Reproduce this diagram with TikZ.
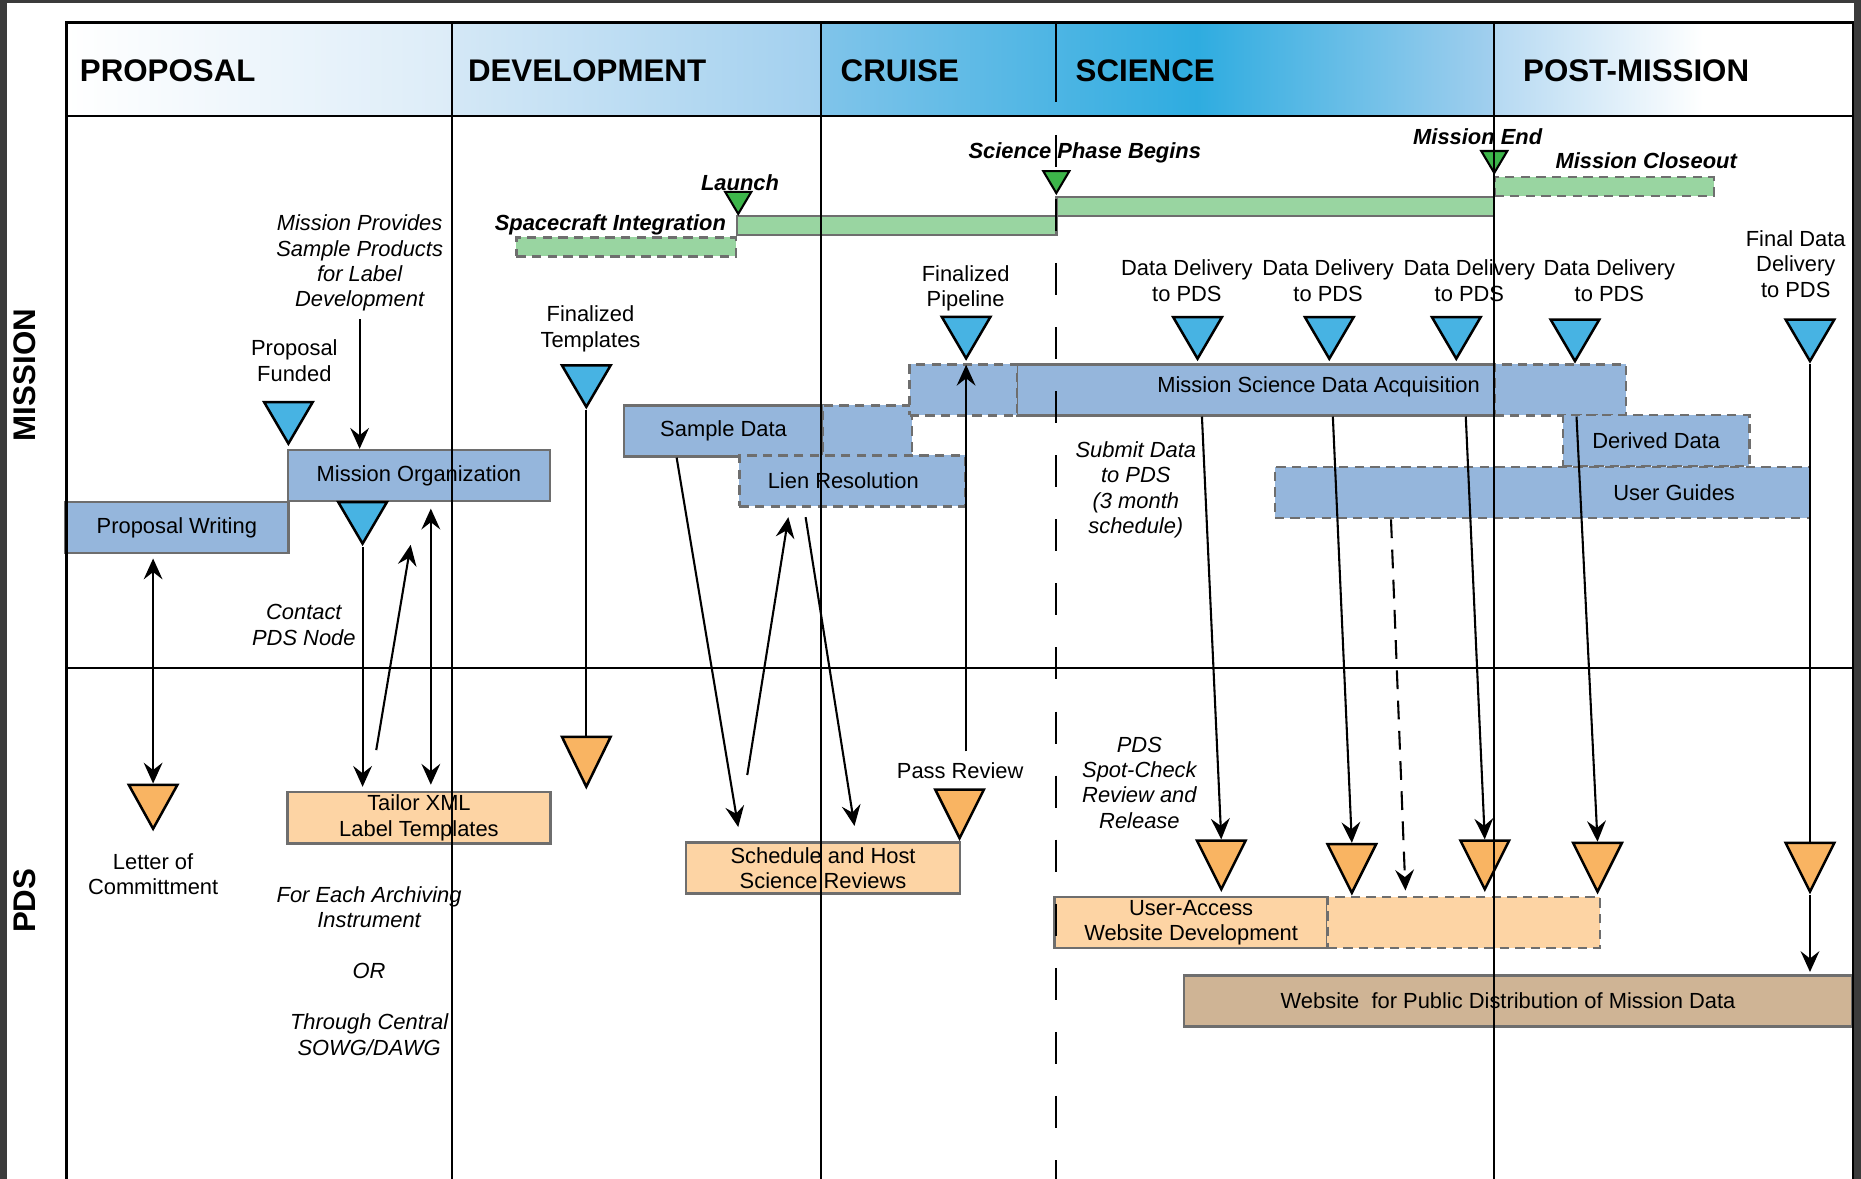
\documentclass[tikz,border=0pt]{standalone}
\usepackage{fontspec}
\setmainfont{Liberation Sans}
\usetikzlibrary{positioning, arrows.meta, shapes.geometric}

\definecolor{scrdark}{HTML}{3B3B3B}
\definecolor{taskblue}{HTML}{95B6DC}
\definecolor{msblue}{HTML}{47B3E3}
\definecolor{barfill}{HTML}{99D5A1}
\definecolor{msgreen}{HTML}{3DB54A}
\definecolor{msorange}{HTML}{F9B462}
\definecolor{pdsfill}{HTML}{FDD4A4}
\definecolor{webfill}{HTML}{CFB495}
\definecolor{edge}{HTML}{6E6E6E}
\definecolor{hdA}{HTML}{DCECF8}
\definecolor{hdB}{HTML}{D4E8F6}
\definecolor{hdC}{HTML}{A2D0EF}
\definecolor{hdD}{HTML}{80C4EA}
\definecolor{hdE}{HTML}{2EACE0}
\definecolor{hdF}{HTML}{A2CFEE}
\definecolor{hdG}{HTML}{B5D9F2}

\newcommand{\bodyfont}{\fontsize{10.5}{12.2}\selectfont}
\newcommand{\phasefont}{\fontsize{15}{18}\selectfont\bfseries}

\begin{document}
\begin{tikzpicture}[x=0.02cm, y=-0.02cm, font=\bodyfont,
    dashedge/.style={dash pattern=on 4.5pt off 3pt},
    task/.style={draw=edge, line width=1.2pt, fill=taskblue, minimum height=0.86cm, inner sep=0pt, align=center},
    plan/.style={task, dashedge},
    pdsbox/.style={task, fill=pdsfill},
    pdsplan/.style={pdsbox, dashedge},
    gbar/.style={draw=edge, line width=1.2pt, fill=barfill, minimum height=0.32cm, inner sep=0pt},
    gplan/.style={gbar, dashedge},
    tri/.style={isosceles triangle, isosceles triangle stretches=true, shape border rotate=270, draw=black, line width=1.2pt, inner sep=0pt, anchor=apex, minimum width=0.82cm, minimum height=0.7cm},
    mstone/.style={tri, fill=msblue},
    pdsmark/.style={tri, fill=msorange, minimum height=0.82cm},
    gmark/.style={tri, fill=msgreen, line width=1pt, minimum width=0.44cm, minimum height=0.37cm},
    phase/.style={anchor=base west, inner sep=0pt, font=\phasefont},
    lane/.style={rotate=90, inner sep=0pt, font=\phasefont},
    lbl/.style={align=center, inner sep=0pt},
    note/.style={lbl, font=\bodyfont\itshape},
    event/.style={inner sep=0pt, font=\bodyfont\bfseries\itshape},
    link/.style={line width=1pt},
    arr/.style={link, -{Stealth[length=10pt, width=9pt, inset=3.5pt]}},
    arrs/.style={link, {Stealth[length=10pt, width=9pt, inset=3.5pt]}-{Stealth[length=10pt, width=9pt, inset=3.5pt]}},
    phaseline/.style={line width=1.1pt}]

    % screen backdrop and page
    \useasboundingbox (0,0) rectangle (1568,993);
    \fill[scrdark] (0,0) rectangle (1568,993);
    \fill[white] (6,2.7) rectangle (1562,993);

    % header band
    \shade[left color=white, right color=hdA] (56,19) rectangle (381,98);
    \shade[left color=hdB, right color=hdC] (381,19) rectangle (692,98);
    \shade[left color=hdD, right color=hdE] (692,19) rectangle (1008,98);
    \shade[left color=hdE, right color=hdF] (1008,19) rectangle (1259,98);
    \shade[left color=hdG, right color=white] (1259,19) rectangle (1435,98);
    \node[phase] (hprop) at (67,68.5) {PROPOSAL};
    \node[phase] (hdev) at (394,68.5) {DEVELOPMENT};
    \node[phase] (hcru) at (708,68.5) {CRUISE};
    \node[phase] (hsci) at (906,68.5) {SCIENCE};
    \node[phase] (hpost) at (1283,68.5) {POST-MISSION};
    \node[lane] (lmis) at (20.5,316) {MISSION};
    \node[lane] (lpds) at (20.5,759) {PDS};

    % spacecraft timeline
    \node[gplan, minimum width=3.7cm] (integ) at (527.5,208) {};
    \node[gbar, minimum width=5.38cm] (cruise) at (755.5,190) {};
    \node[gbar, minimum width=7.38cm] (scibar) at (1074.5,174) {};
    \node[gplan, minimum width=3.7cm] (close) at (1351.5,157) {};
    \node[gmark] (launch) at (622,182.5) {};
    \node[gmark] (spb) at (890,165) {};
    \node[gmark] (mend) at (1259,148) {};
    \node[event, anchor=east] (linteg) at (612,189.5) {Spacecraft Integration};
    \node[event] (llaunch) at (623.5,154) {Launch};
    \node[event] (lspb) at (914,129) {Science Phase Begins};
    \node[event] (lmend) at (1245,115) {Mission End};
    \node[event] (lclose) at (1387,135) {Mission Closeout};

    % mission tasks
    \node[task, minimum width=3.76cm] (propw) at (149,444.5) {Proposal Writing};
    \node[task, minimum width=4.42cm] (morg) at (353,400.7) {Mission Organization};
    \node[task, minimum width=3.35cm] (sdata) at (609.6,363) {Sample Data};
    \node[plan, minimum width=1.5cm] (sdx) at (731,363) {};
    \node[plan, minimum width=3.8cm] (lien) at (718,405.2) {};
    \node (lienlbl) at (710.5,405.2) {Lien Resolution};
    \node[task, minimum width=8.04cm] (msda) at (1058,328.4) {};
    \node[plan, minimum width=1.81cm] (pipe) at (811.7,328.4) {};
    \node[plan, minimum width=2.22cm] (msdx) at (1314.5,328.4) {};
    \node (msdalbl) at (1111,326) {Mission Science Data Acquisition};
    \node[plan, minimum width=3.14cm] (derived) at (1395.4,371) {Derived Data};
    \node[plan, minimum width=9.02cm] (guides) at (1299.5,415) {};
    \node (guidelbl) at (1410.5,415) {User Guides};

    % pds tasks
    \node[pdsbox, minimum width=4.44cm] (tailor) at (353,689) {Tailor XML\\Label Templates};
    \node[pdsbox, minimum width=4.62cm] (sched) at (693.5,731.5) {Schedule and Host\\Science Reviews};
    \node[pdsbox, minimum width=4.6cm] (uawd) at (1003.6,777.3) {User-Access\\Website Development};
    \node[pdsplan, minimum width=4.59cm] (uawx) at (1233.2,777.3) {};
    \node[task, fill=webfill, minimum width=11.27cm] (web) at (1279.2,843.3) {};
    \node (weblbl) at (1270.6,843.3) {Website~ for Public Distribution of Mission Data};

    % mission milestones
    \node[mstone] (pf) at (243,376.5) {};
    \node[mstone] (cpds) at (305.5,460.8) {};
    \node[mstone] (ft) at (494,345.6) {};
    \node[mstone] (fp) at (814,304.7) {};
    \foreach \i/\x/\y/\lx in {1/1009/305/1000, 2/1120/305/1119, 3/1227/305/1238, 4/1327/307/1356} {
        \node[mstone] (dd\i) at (\x,\y) {};
        \node[lbl] (ddl\i) at (\lx,236.5) {Data Delivery\\to PDS};
    }
    \node[mstone] (fdd) at (1525,307) {};
    \node[lbl] (lpf) at (248,304) {Proposal\\Funded};
    \node[lbl] (lft) at (497.5,277) {Finalized\\Templates};
    \node[lbl] (lfp) at (813.6,243) {Finalized\\Pipeline};
    \node[lbl] (lfdd) at (1513,222.5) {Final Data\\Delivery\\to PDS};

    % pds milestones
    \node[pdsmark, minimum height=0.74cm] (loc) at (129,701) {};
    \node[pdsmark, minimum height=0.84cm] (oft) at (494,665.6) {};
    \node[pdsmark] (pr) at (808.5,709) {};
    \foreach \i/\x/\y in {1/1029/752, 2/1139/755, 3/1251/752, 4/1346/754}
        \node[pdsmark] (sc\i) at (\x,\y) {};
    \node[pdsmark] (fdo) at (1525,754) {};
    \node[lbl] (lloc) at (129,736.5) {Letter of\\Committment};
    \node[lbl] (lpr) at (809,649) {Pass Review};

    % notes
    \node[note] (mpnote) at (303,221.7) {Mission Provides\\Sample Products\\for Label\\Development};
    \node[note] (cnote) at (256,526.5) {Contact\\PDS Node};
    \node[note] (snote) at (957,412.7) {Submit Data\\to PDS\\(3 month\\schedule)};
    \node[note] (pnote) at (960,659.4) {PDS\\Spot-Check\\Review and\\Release};
    \node[note] (inote) at (311,818) {For Each Archiving\\Instrument\\[12.2pt]OR\\[12.2pt]Through Central\\SOWG/DAWG};

    % connectors
    \coordinate (fbs) at (317,632);
    \coordinate (fbe) at (346,459);
    \coordinate (rvs) at (629.6,653);
    \coordinate (prs) at (814,633);
    \draw[arrs, shorten <=2pt] (loc.lower side |- propw.south) -- (loc.lower side);
    \draw[arr] ([yshift=-0.12cm]mpnote.south) -- (mpnote.south |- morg.north);
    \draw[arr, shorten >=2pt] (cpds.apex) -- (cpds.apex |- tailor.north);
    \draw[arr] (fbs) -- (fbe);
    \draw[arrs, shorten <=3pt, shorten >=3pt] ([xshift=0.2cm]morg.south) -- ([xshift=0.2cm]tailor.north);
    \draw[link] (ft.apex) -- (oft.lower side);
    \draw[arr, shorten >=7pt] ([xshift=-0.79cm]sdata.south) -- ([xshift=-1.39cm]sched.north);
    \draw[arr, shorten >=4.6pt] (rvs) -- ([xshift=-1.05cm]lien.south);
    \draw[arr, shorten <=4.6pt, shorten >=7.5pt] ([xshift=-0.81cm]lien.south) -- ([xshift=0.57cm]sched.north);
    \draw[arr, shorten >=1.5pt] (prs) -- (fp.apex);
    \foreach \i/\sx in {1/1012.7, 2/1123, 3/1235, 4/1328.3}
        \draw[arr] (\sx,0 |- msda.south) -- (sc\i.lower side);
    \draw[arr, dash pattern=on 9pt off 5.5pt, shorten >=2.5pt] (1172,0 |- guides.south) -- (1184.3,0 |- uawx.north);
    \draw[link] (fdd.apex) -- (fdo.lower side);
    \draw[arr, shorten >=1pt] (fdo.apex) -- (fdo.apex |- web.north);

    % frame and phase dividers
    \draw[phaseline] (56,993) -- (56,19) -- (1561,19) -- (1561,993);
    \draw[phaseline] (56,98) -- (1561,98);
    \draw[phaseline] (56,563) -- (1561,563);
    \foreach \x in {381,692,1259}
        \draw[phaseline] (\x,19) -- (\x,993);
    \draw[phaseline] (890,19) -- (890,86);
    \draw[phaseline, dash pattern=on 0.54cm off 0.54cm] (890,113.6) -- (890,993);
\end{tikzpicture}
\end{document}
